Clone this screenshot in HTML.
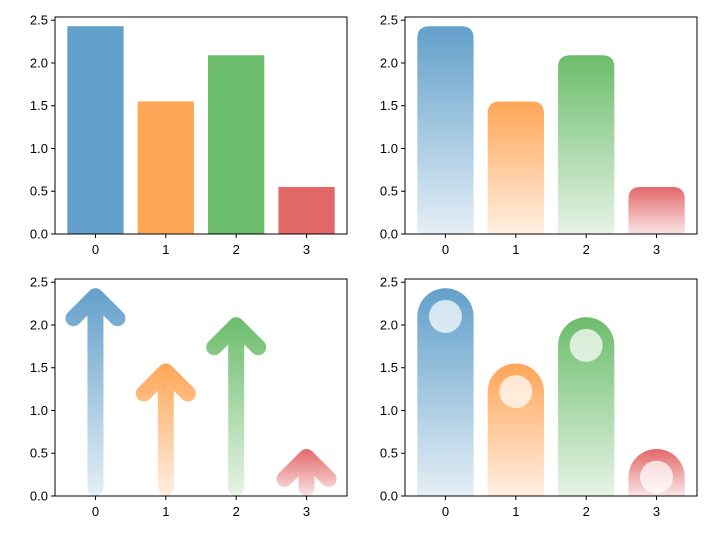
<!DOCTYPE html>
<html><head><meta charset="utf-8"><style>body{margin:0;background:#fff}svg{display:block;font-family:"Liberation Sans","DejaVu Sans",sans-serif}</style></head>
<body>
<svg id="s" width="712" height="540"></svg>
<script>
const categories = ["0","1","2","3"];
const values = [2.43, 1.55, 2.09, 0.55];
const yTicks = [0, 0.5, 1.0, 1.5, 2.0, 2.5];
const yTickLabels = ["0.0","0.5","1.0","1.5","2.0","2.5"];
const colors = ["#1f77b4","#ff7f0e","#2ca02c","#d62728"];
const NS="http://www.w3.org/2000/svg";
const svg=document.getElementById('s');
function mk(t,a,p){const e=document.createElementNS(NS,t);for(const k in a)e.setAttribute(k,a[k]);(p||svg).appendChild(e);return e;}
const defs=mk('defs',{});
const panels=[{x0:55,x1:347,y0:17,y1:234,type:'bar'},{x0:405,x1:697,y0:17,y1:234,type:'round'},{x0:55,x1:347,y0:279,y1:496,type:'arrow'},{x0:405,x1:697,y0:279,y1:496,type:'pill'}];
const xmin=-0.575,xmax=3.575,ymax=2.5375;
panels.forEach((P,pi)=>{
  const g=mk('g',{});
  
  
  const X=v=>P.x0+(v-xmin)/(xmax-xmin)*(P.x1-P.x0);
  const Y=v=>P.y1-v/ymax*(P.y1-P.y0);
  const bw=X(0.4)-X(0);
  values.forEach((v,i)=>{
    const cx=X(i), top=Y(v), base=Y(0);
    const gid='g'+pi+'_'+i;
    const lg=mk('linearGradient',{id:gid,gradientUnits:'userSpaceOnUse',x1:0,x2:0,y1:top,y2:base},defs);
    mk('stop',{offset:0,'stop-color':colors[i],'stop-opacity':P.type==='bar'?0.7:0.7},lg);
    mk('stop',{offset:1,'stop-color':colors[i],'stop-opacity':P.type==='bar'?0.7:0.12},lg);
    let e;
    if(P.type==='bar'){e=mk('rect',{x:cx-bw,y:top,width:2*bw,height:base-top,fill:'url(#'+gid+')'},g);}
    else if(P.type==='round'){const r=Math.min(12,(base-top)/2);
      e=mk('path',{d:`M${cx-bw},${base}V${top+r}Q${cx-bw},${top} ${cx-bw+r},${top}H${cx+bw-r}Q${cx+bw},${top} ${cx+bw},${top+r}V${base}Z`,fill:'url(#'+gid+')'},g);}
    else if(P.type==='arrow'){const sw=16,t=top+sw/2;
      e=mk('path',{d:`M${cx},${base-sw/2}V${t}M${cx-22},${t+22}L${cx},${t}L${cx+22},${t+22}`,fill:'none',stroke:'url(#'+gid+')','stroke-width':sw,'stroke-linecap':'round','stroke-linejoin':'round'},g);}
    else {const r=bw;
      e=mk('path',{d:`M${cx-bw},${base}V${top+r}A${r},${r} 0 0 1 ${cx+bw},${top+r}V${base}Z`,fill:'url(#'+gid+')'},g);
      const c=mk('circle',{cx:cx,cy:top+r,r:16.5,fill:'#fff','fill-opacity':0.72},g);
      
      }
    
    
  });
  mk('rect',{x:P.x0,y:P.y0,width:P.x1-P.x0,height:P.y1-P.y0,fill:'none',stroke:'#000','stroke-width':1},g);
  yTicks.forEach((t,k)=>{const y=Y(t);mk('line',{x1:P.x0-4,x2:P.x0,y1:y,y2:y,stroke:'#000'},g);
    const tx=mk('text',{x:P.x0-7,y:y+4.5,'font-size':13,'text-anchor':'end'},g);tx.textContent=yTickLabels[k];
    });
  categories.forEach((c,i)=>{const x=X(i);mk('line',{x1:x,x2:x,y1:P.y1,y2:P.y1+4,stroke:'#000'},g);
    const tx=mk('text',{x:x,y:P.y1+20,'font-size':13,'text-anchor':'middle'},g);tx.textContent=c;
    });
});
</script>
</body></html>
